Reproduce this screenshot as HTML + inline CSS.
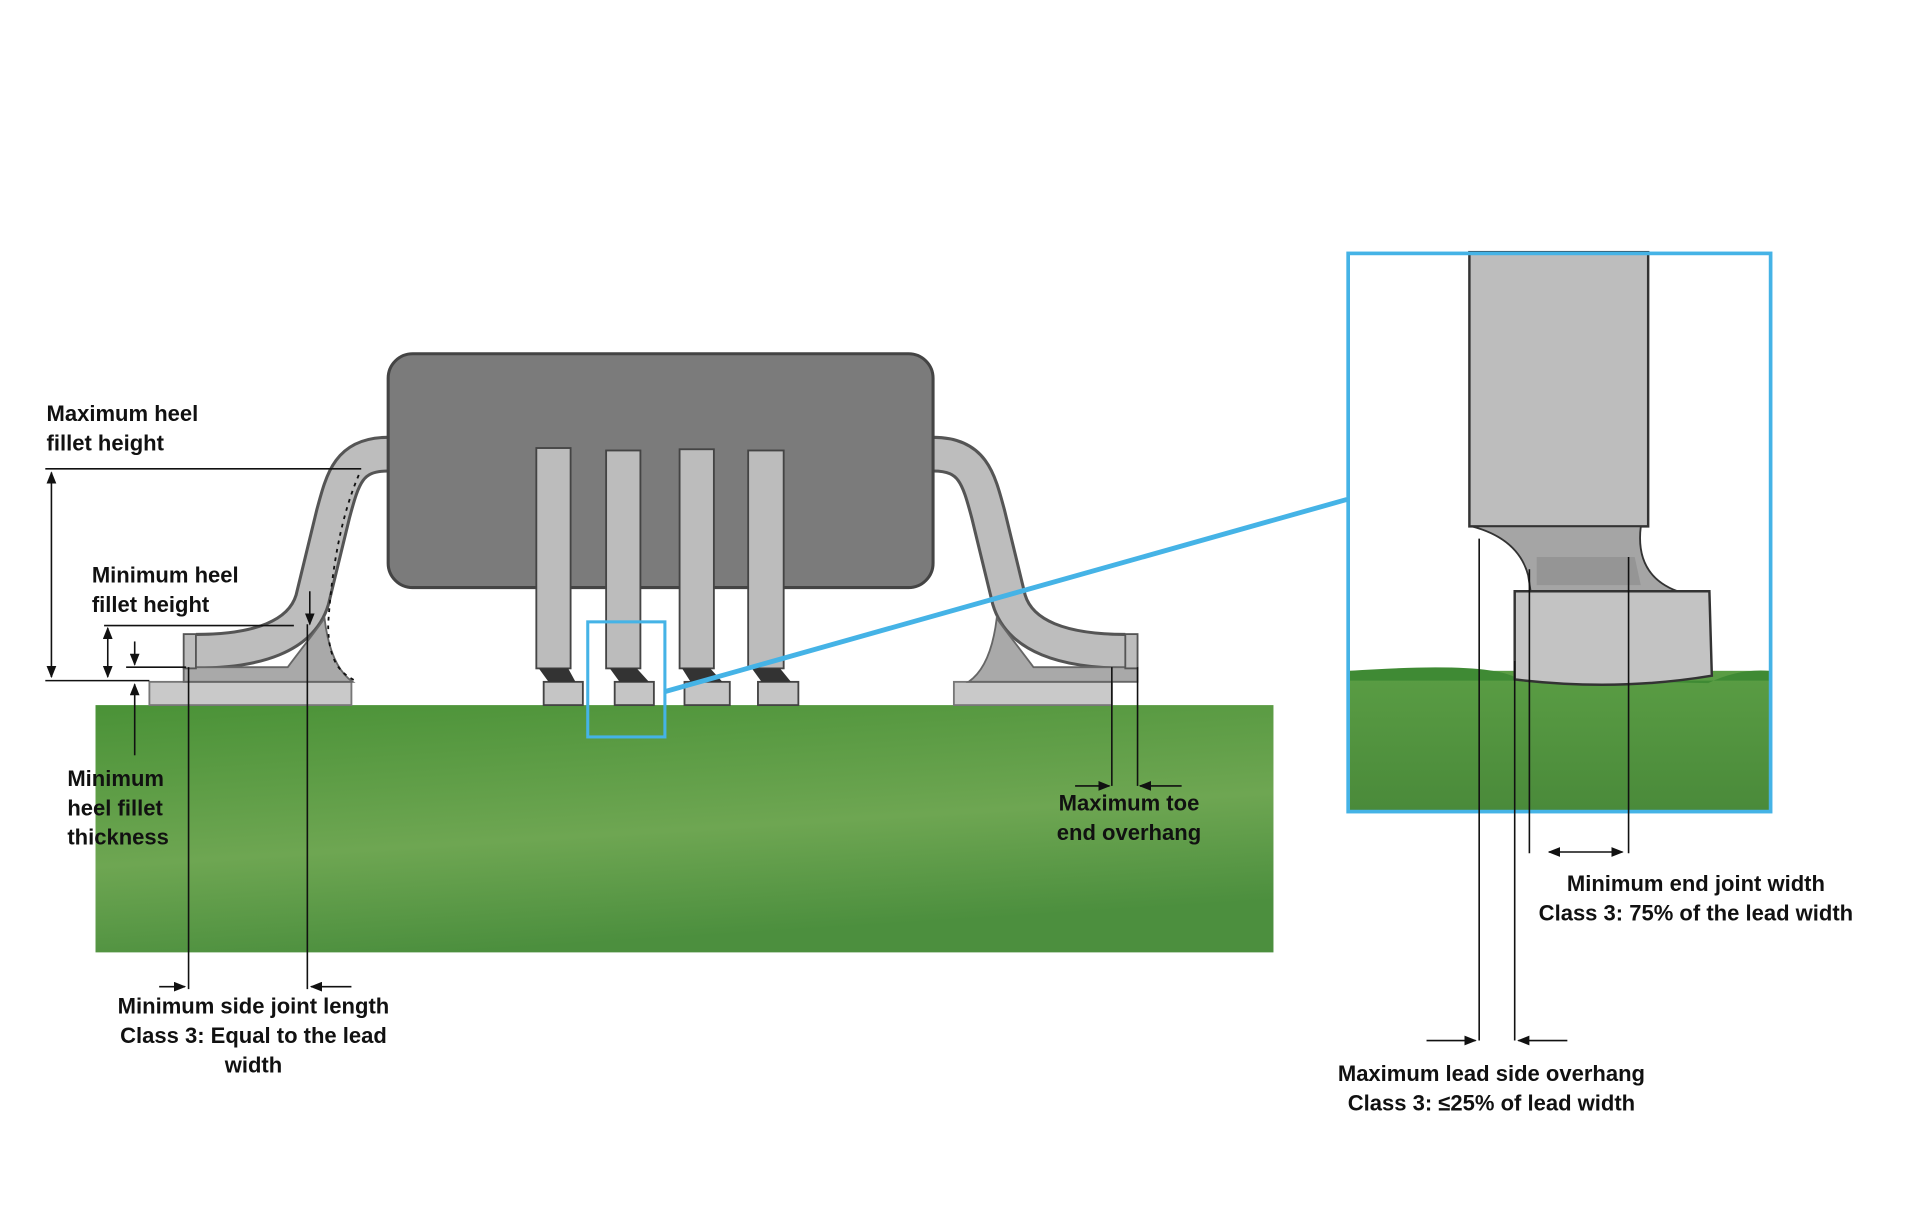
<!DOCTYPE html>
<html><head><meta charset="utf-8"><style>
html,body{margin:0;padding:0;background:#fff;}
svg{display:block}
text{font-family:"Liberation Sans",sans-serif;font-weight:bold;font-size:18px;fill:#111}
</style></head><body>
<svg width="1920" height="1207" viewBox="0 0 1568 986" preserveAspectRatio="none" xmlns="http://www.w3.org/2000/svg">
<defs>
<linearGradient id="g" x1="0" y1="0" x2="0.3" y2="1">
<stop offset="0" stop-color="#4a9237"/><stop offset="0.6" stop-color="#6ea652"/><stop offset="1" stop-color="#4c8f3e"/>
</linearGradient>
<linearGradient id="gz" x1="0" y1="0" x2="0" y2="1">
<stop offset="0" stop-color="#5a9d44"/><stop offset="1" stop-color="#4a8a3a"/>
</linearGradient>
<marker id="ah" markerWidth="10" markerHeight="8" refX="9" refY="4" orient="auto" markerUnits="userSpaceOnUse">
<path d="M0,0 L10,4 L0,8 z" fill="#111"/></marker>
<marker id="as" markerWidth="10" markerHeight="8" refX="1" refY="4" orient="auto" markerUnits="userSpaceOnUse">
<path d="M10,0 L0,4 L10,8 z" fill="#111"/></marker>
<g id="lead">
<path d="M317 371 C285 371 280 390 272 420 L255 490 C246 520 210 532 160 532" fill="none" stroke="#555" stroke-width="30" stroke-linecap="butt"/>
<path d="M317 371 C285 371 280 390 272 420 L255 490 C246 520 210 532 160 532" fill="none" stroke="#bdbdbd" stroke-width="25"/>
<path d="M150 545 L235 545 C250 525 262 510 265 505 C268 530 275 548 288 557 L150 557 z" fill="#a9a9a9" stroke="#666" stroke-width="1.5"/>
<rect x="150" y="518" width="10" height="28" fill="#bdbdbd" stroke="#555" stroke-width="1.5"/>
</g>
</defs>
<!-- board -->
<rect x="78" y="576" width="962" height="202" fill="url(#g)"/>
<!-- pads -->
<rect x="122" y="557" width="165" height="19" fill="#c9c9c9" stroke="#777" stroke-width="1.5"/>
<rect x="779" y="557" width="129" height="19" fill="#c9c9c9" stroke="#777" stroke-width="1.5"/>
<!-- leads -->
<use href="#lead"/>
<use href="#lead" transform="translate(1079,0) scale(-1,1)"/>
<!-- body -->
<rect x="317" y="289" width="445" height="191" rx="20" fill="#7b7b7b" stroke="#444" stroke-width="2.5"/>
<!-- vertical pins -->
<g stroke="#444" stroke-width="1.5">
<rect x="438" y="366" width="28" height="180" fill="#bcbcbc"/>
<rect x="495" y="368" width="28" height="178" fill="#bcbcbc"/>
<rect x="555" y="367" width="28" height="179" fill="#bcbcbc"/>
<rect x="611" y="368" width="29" height="178" fill="#bcbcbc"/>
<rect x="444" y="557" width="32" height="19" fill="#c5c5c5"/>
<rect x="502" y="557" width="32" height="19" fill="#c5c5c5"/>
<rect x="559" y="557" width="37" height="19" fill="#c5c5c5"/>
<rect x="619" y="557" width="33" height="19" fill="#c5c5c5"/>
</g>
<g fill="#333">
<path d="M440 546 L464 546 L470 557 L448 557z"/><path d="M498 546 L520 546 L530 557 L506 557z"/>
<path d="M557 546 L580 546 L590 557 L564 557z"/><path d="M614 546 L637 546 L646 557 L622 557z"/>
</g>
<!-- blue callout -->
<rect x="480" y="508" width="63" height="94" fill="none" stroke="#45b3e6" stroke-width="2.5"/>
<line x1="543" y1="565" x2="1100" y2="408" stroke="#45b3e6" stroke-width="4"/>
<!-- zoom panel -->
<rect x="1102" y="548" width="343" height="114" fill="url(#gz)"/>
<path d="M1102 548 Q1220 540 1240 555 L1395 558 Q1420 546 1445 548 L1445 556 L1102 556z" fill="#3f8a34"/>
<rect x="1200" y="206" width="146" height="224" fill="#bdbdbd" stroke="#333" stroke-width="2"/>
<path d="M1202 430 Q1240 440 1248 470 L1250 483 L1370 483 Q1335 470 1340 430 z" fill="#a5a5a5" stroke="#333" stroke-width="1.5"/>
<path d="M1255 455 L1335 455 L1340 478 L1255 478z" fill="#8a8a8a" opacity="0.6"/>
<path d="M1237 483 L1396 483 L1398 552 Q1320 565 1237 555 z" fill="#c3c3c3" stroke="#333" stroke-width="2"/>
<rect x="1101" y="207" width="345" height="456" fill="none" stroke="#45b3e6" stroke-width="3"/>
<!-- dimension lines -->
<g stroke="#111" stroke-width="1.3" fill="none">
<line x1="37" y1="383" x2="295" y2="383"/>
<line x1="37" y1="556" x2="122" y2="556"/>
<line x1="42" y1="386" x2="42" y2="553" marker-start="url(#as)" marker-end="url(#ah)"/>
<line x1="85" y1="511" x2="240" y2="511"/>
<line x1="103" y1="545" x2="152" y2="545"/>
<line x1="88" y1="513" x2="88" y2="553" marker-start="url(#as)" marker-end="url(#ah)"/>
<line x1="110" y1="524" x2="110" y2="543" marker-end="url(#ah)"/>
<line x1="110" y1="617" x2="110" y2="559" marker-end="url(#ah)"/>
<line x1="253" y1="483" x2="253" y2="510" marker-end="url(#ah)"/>
<path d="M293 388 C275 430 270 480 268 510 C268 540 278 550 290 556" stroke-dasharray="3,4" stroke-width="1.5"/>
<line x1="154" y1="545" x2="154" y2="808"/>
<line x1="251" y1="510" x2="251" y2="808"/>
<line x1="130" y1="806" x2="151" y2="806" marker-end="url(#ah)"/>
<line x1="287" y1="806" x2="254" y2="806" marker-end="url(#ah)"/>
<line x1="908" y1="545" x2="908" y2="642"/>
<line x1="929" y1="545" x2="929" y2="642"/>
<line x1="878" y1="642" x2="906" y2="642" marker-end="url(#ah)"/>
<line x1="965" y1="642" x2="931" y2="642" marker-end="url(#ah)"/>
<line x1="1208" y1="440" x2="1208" y2="850"/>
<line x1="1237" y1="540" x2="1237" y2="850"/>
<line x1="1249" y1="465" x2="1249" y2="697"/>
<line x1="1330" y1="455" x2="1330" y2="697"/>
<line x1="1265" y1="696" x2="1325" y2="696" marker-start="url(#as)" marker-end="url(#ah)"/>
<line x1="1165" y1="850" x2="1205" y2="850" marker-end="url(#ah)"/>
<line x1="1280" y1="850" x2="1240" y2="850" marker-end="url(#ah)"/>
</g>
<!-- labels -->
<text x="38" y="344">Maximum heel</text>
<text x="38" y="368">fillet height</text>
<text x="75" y="476">Minimum heel</text>
<text x="75" y="500">fillet height</text>
<text x="55" y="642">Minimum</text>
<text x="55" y="666">heel fillet</text>
<text x="55" y="690">thickness</text>
<text x="207" y="828" text-anchor="middle">Minimum side joint length</text>
<text x="207" y="852" text-anchor="middle">Class 3: Equal to the lead</text>
<text x="207" y="876" text-anchor="middle">width</text>
<text x="922" y="662" text-anchor="middle">Maximum toe</text>
<text x="922" y="686" text-anchor="middle">end overhang</text>
<text x="1385" y="728" text-anchor="middle">Minimum end joint width</text>
<text x="1385" y="752" text-anchor="middle">Class 3: 75% of the lead width</text>
<text x="1218" y="883" text-anchor="middle">Maximum lead side overhang</text>
<text x="1218" y="907" text-anchor="middle">Class 3: ≤25% of lead width</text>
</svg>
</body></html>
